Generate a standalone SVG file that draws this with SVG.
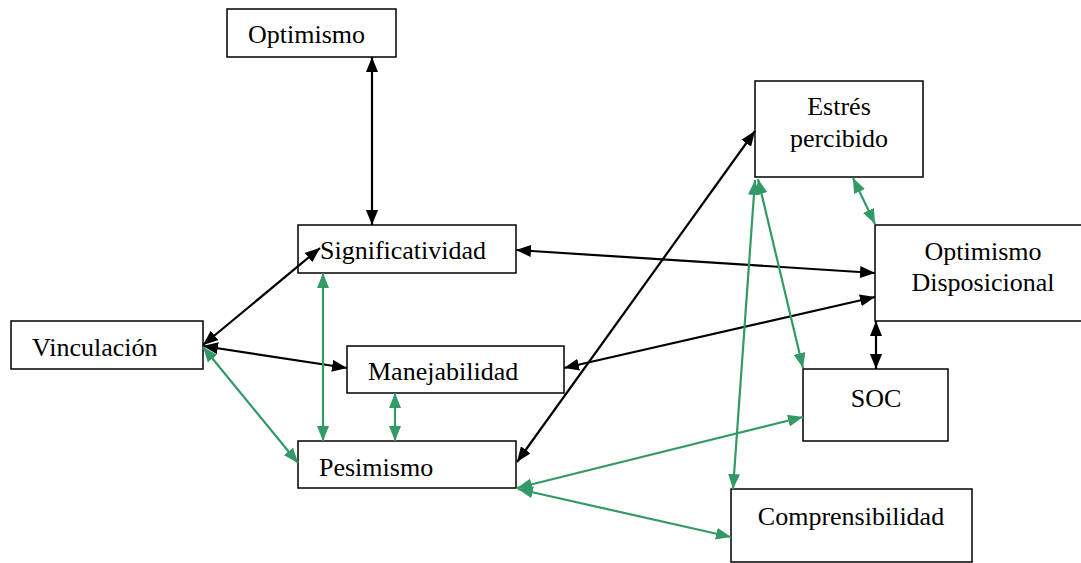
<svg xmlns="http://www.w3.org/2000/svg" width="1081" height="563" viewBox="0 0 1081 563">
<style>
.box{fill:#fff;stroke:#000;stroke-width:1.5}
.t{font-size:26px;fill:#000}
.k{stroke:#000;stroke-width:2.2;fill:none;marker-start:url(#ak);marker-end:url(#ak)}
.g{stroke:#339966;stroke-width:2.2;fill:none;marker-start:url(#ag);marker-end:url(#ag)}
</style>
<defs>
<marker id="ak" markerUnits="userSpaceOnUse" markerWidth="15" markerHeight="12" refX="15" refY="6" orient="auto-start-reverse"><path d="M0,0 L15,6 L0,12 z" fill="#000"/></marker>
<marker id="ag" markerUnits="userSpaceOnUse" markerWidth="15" markerHeight="12" refX="15" refY="6" orient="auto-start-reverse"><path d="M0,0 L15,6 L0,12 z" fill="#339966"/></marker>
</defs>
<rect width="1081" height="563" fill="#fff"/>
<g font-family="Liberation Serif, Times New Roman, serif">
<g id="n-optimismo"><rect class="box" x="227" y="9" width="169" height="48"/><text class="t" x="248" y="43">Optimismo</text></g>
<g id="n-significatividad"><rect class="box" x="298" y="225" width="218" height="48"/><text class="t" x="320" y="259">Significatividad</text></g>
<g id="n-manejabilidad"><rect class="box" x="347" y="346" width="217" height="47"/><text class="t" x="368" y="380">Manejabilidad</text></g>
<g id="n-pesimismo"><rect class="box" x="298" y="441" width="218" height="47"/><text class="t" x="319" y="476">Pesimismo</text></g>
<g id="n-vinculacion"><rect class="box" x="11" y="321" width="192" height="48"/><text class="t" x="32" y="356">Vinculación</text></g>
<g id="n-estres"><rect class="box" x="755" y="81" width="168" height="96"/><text class="t" x="839" y="115" text-anchor="middle">Estrés</text><text class="t" x="839" y="147" text-anchor="middle">percibido</text></g>
<g id="n-optdisp"><rect class="box" x="875" y="225" width="210" height="96"/><text class="t" x="983" y="260" text-anchor="middle">Optimismo</text><text class="t" x="983" y="291" text-anchor="middle">Disposicional</text></g>
<g id="n-soc"><rect class="box" x="803" y="369" width="145" height="72"/><text class="t" x="876" y="407" text-anchor="middle">SOC</text></g>
<g id="n-comprensibilidad"><rect class="box" x="731" y="489" width="241" height="73"/><text class="t" x="851" y="525" text-anchor="middle">Comprensibilidad</text></g>
</g>
<g id="connectors">
<line class="k" x1="372" y1="57" x2="372" y2="225"/>
<line class="k" x1="203" y1="345" x2="320" y2="248"/>
<line class="k" x1="203" y1="346" x2="347" y2="368"/>
<line class="g" x1="203" y1="347" x2="298" y2="463"/>
<line class="g" x1="323" y1="273" x2="323" y2="441"/>
<line class="g" x1="395" y1="393" x2="395" y2="441"/>
<line class="k" x1="516" y1="250" x2="875" y2="273"/>
<line class="k" x1="564" y1="368" x2="875" y2="297"/>
<line class="k" x1="517" y1="462" x2="755" y2="131"/>
<line class="g" x1="853" y1="178" x2="875" y2="224"/>
<line class="k" x1="876" y1="321" x2="876" y2="369"/>
<line class="g" x1="758" y1="179" x2="803" y2="368"/>
<line class="g" x1="755" y1="180" x2="733" y2="489"/>
<line class="g" x1="517" y1="488" x2="803" y2="417"/>
<line class="g" x1="518" y1="489" x2="731" y2="537"/>
</g>
</svg>
